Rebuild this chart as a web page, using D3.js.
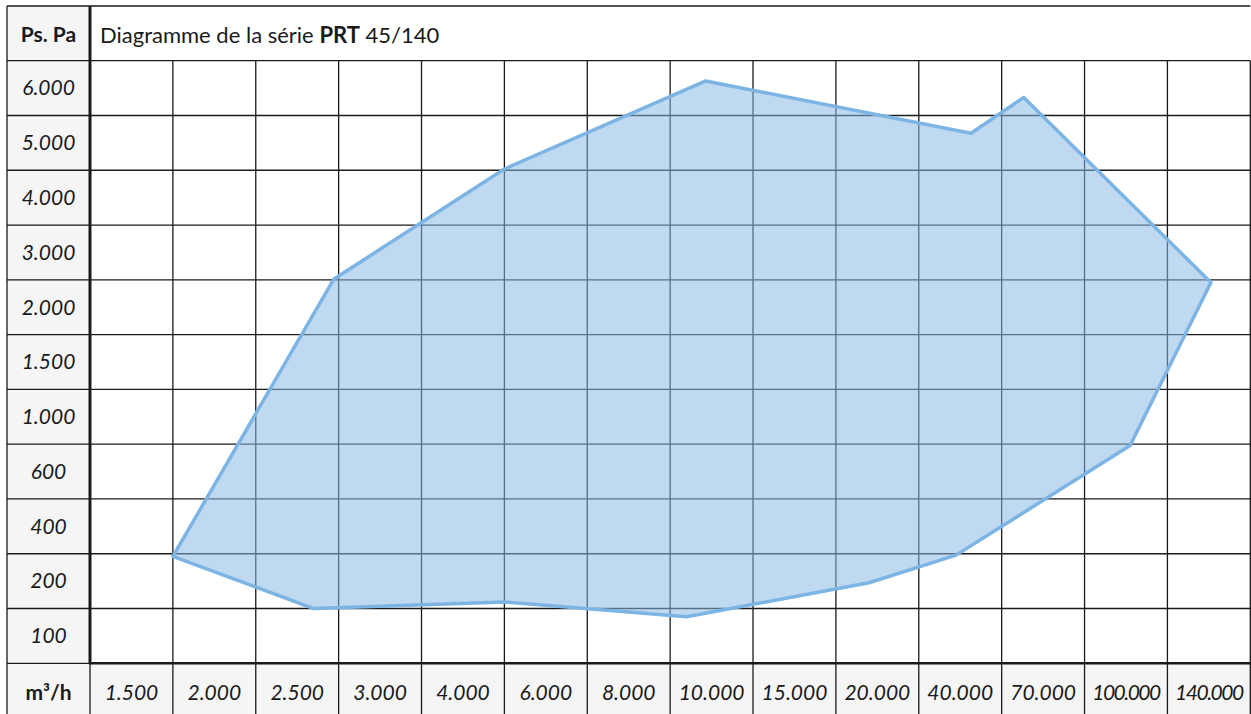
<!DOCTYPE html>
<html>
<head>
<meta charset="utf-8">
<script src="https://cdn.jsdelivr.net/npm/d3@7"></script>
<style>
  body { margin: 0; background: #fff; }
  text { font-family: Lato, "Open Sans", sans-serif; fill: #1a1a1a; }
</style>
</head>
<body>
<svg id="chart" width="1251" height="714"></svg>
<script>
// x categories (m3/h) and y categories (Pa), as printed in the table
const flowLabels = ['1.500', '2.000', '2.500', '3.000', '4.000', '6.000', '8.000', '10.000', '15.000', '20.000', '40.000', '70.000', '100.000', '140.000'];
const flowValues = [1500, 2000, 2500, 3000, 4000, 6000, 8000, 10000, 15000, 20000, 40000, 70000, 100000, 140000];
const pressureLabels = ['6.000', '5.000', '4.000', '3.000', '2.000', '1.500', '1.000', '600', '400', '200', '100'];
const pressureValues = [6000, 5000, 4000, 3000, 2000, 1500, 1000, 600, 400, 200, 100];

// working field outline (flow m3/h, static pressure Pa)
const fieldFlow = [1750, 2600, 5000, 9400, 19500, 39000, 102000, 141000, 63000, 43900, 9860, 5000, 2720];
const fieldPressure = [290, 150, 162, 135, 197, 295, 790, 2450, 5830, 5175, 6130, 4523, 2510];

const titleText = ['Diagramme de la série ', 'PRT', ' 45/140'];

function draw() {
    const left = 7, right = 1250.3, top = 6, bottom = 720;
    const plotLeft = 90, headerBottom = 60.7, plotBottom = 663.3;

    const svg = d3.select('#chart');

    const xBand = d3.scaleBand().domain(flowLabels).range([plotLeft, right]).padding(0);
    const yBand = d3.scaleBand().domain(pressureLabels).range([headerBottom, plotBottom]).padding(0);

    // piecewise scales: each printed value sits at the middle of its cell
    const xScale = d3.scaleLinear()
        .domain(flowValues)
        .range(flowLabels.map(d => xBand(d) + xBand.bandwidth() / 2));
    const yScale = d3.scaleLinear()
        .domain(pressureValues)
        .range(pressureLabels.map(d => yBand(d) + yBand.bandwidth() / 2));

    // grey label cells
    svg.append('rect')
        .attr('x', left).attr('y', top)
        .attr('width', plotLeft - left).attr('height', plotBottom - top)
        .attr('fill', '#f5f5f5');
    svg.append('rect')
        .attr('x', left).attr('y', plotBottom)
        .attr('width', right - left).attr('height', bottom - plotBottom)
        .attr('fill', '#f5f5f5');

    const grid = svg.append('g')
        .attr('stroke', '#1a1a1a')
        .attr('stroke-width', 1.3);

    // horizontal row lines
    const rowEdges = pressureLabels.map(d => yBand(d)).concat([plotBottom]);
    grid.selectAll('line.row')
        .data(rowEdges)
        .enter()
        .append('line')
        .attr('x1', left).attr('x2', right)
        .attr('y1', d => d).attr('y2', d => d);
    grid.append('line')
        .attr('x1', left).attr('x2', right)
        .attr('y1', top).attr('y2', top);

    // vertical column lines (below the header)
    const colEdges = flowLabels.slice(1).map(d => xBand(d)).concat([right]);
    grid.selectAll('line.col')
        .data(colEdges)
        .enter()
        .append('line')
        .attr('y1', headerBottom).attr('y2', bottom)
        .attr('x1', d => d).attr('x2', d => d);
    grid.append('line')
        .attr('x1', left).attr('x2', left)
        .attr('y1', top).attr('y2', bottom);

    // thick axis lines
    svg.append('line')
        .attr('x1', plotLeft).attr('x2', plotLeft)
        .attr('y1', top).attr('y2', bottom)
        .attr('stroke', '#1a1a1a').attr('stroke-width', 1.3);
    svg.append('line')
        .attr('x1', plotLeft).attr('x2', plotLeft)
        .attr('y1', top).attr('y2', plotBottom + 1)
        .attr('stroke', '#1a1a1a').attr('stroke-width', 3);
    svg.append('line')
        .attr('x1', plotLeft).attr('x2', right)
        .attr('y1', plotBottom).attr('y2', plotBottom)
        .attr('stroke', '#1a1a1a').attr('stroke-width', 2.6);

    // working field
    const pts = fieldFlow.map((f, i) => [xScale(f), yScale(fieldPressure[i])]);
    svg.append('path')
        .attr('d', d3.line()(pts) + 'Z')
        .attr('fill', 'rgb(134,184,228)')
        .attr('fill-opacity', 0.54)
        .attr('stroke', 'rgb(124,180,228)')
        .attr('stroke-width', 3.5)
        .attr('stroke-linejoin', 'round');

    // x axis labels
    const xAxis = svg.append('g')
        .attr('transform', `translate(0, ${plotBottom})`)
        .call(d3.axisBottom(xBand).tickSize(0).tickPadding(0));
    xAxis.select('.domain').remove();
    xAxis.selectAll('text')
        .attr('y', 29)
        .attr('dy', '0.35em')
        .style('font-family', 'Lato, "Open Sans", sans-serif')
        .style('font-size', '21px')
        .style('font-style', 'italic')
        .style('letter-spacing', d => d.length >= 7 ? '-1.5px' : null)
        .attr('fill', '#1a1a1a');

    // y axis labels
    const yAxis = svg.append('g')
        .attr('transform', `translate(${(left + plotLeft) / 2}, 0)`)
        .call(d3.axisLeft(yBand).tickSize(0).tickPadding(0));
    yAxis.select('.domain').remove();
    yAxis.selectAll('text')
        .attr('x', 0)
        .attr('dy', '0.35em')
        .style('text-anchor', 'middle')
        .style('font-family', 'Lato, "Open Sans", sans-serif')
        .style('font-size', '21px')
        .style('font-style', 'italic')
        .attr('fill', '#1a1a1a');

    // header cells
    svg.append('text')
        .attr('x', (left + plotLeft) / 2)
        .attr('y', 35)
        .attr('dy', '0.35em')
        .style('text-anchor', 'middle')
        .style('font-size', '21px')
        .style('font-weight', 'bold')
        .text('Ps. Pa');

    svg.append('text')
        .attr('x', (left + plotLeft) / 2)
        .attr('y', plotBottom + 29)
        .attr('dy', '0.35em')
        .style('text-anchor', 'middle')
        .style('font-size', '21px')
        .style('font-weight', 'bold')
        .text('m³/h');

    const title = svg.append('text')
        .attr('x', plotLeft + 10)
        .attr('y', 35)
        .attr('dy', '0.35em')
        .style('font-size', '22px');
    titleText.forEach((t, i) => {
        title.append('tspan')
            .style('font-weight', i === 1 ? 'bold' : 'normal')
            .text(t);
    });
}

draw();
</script>
</body>
</html>
